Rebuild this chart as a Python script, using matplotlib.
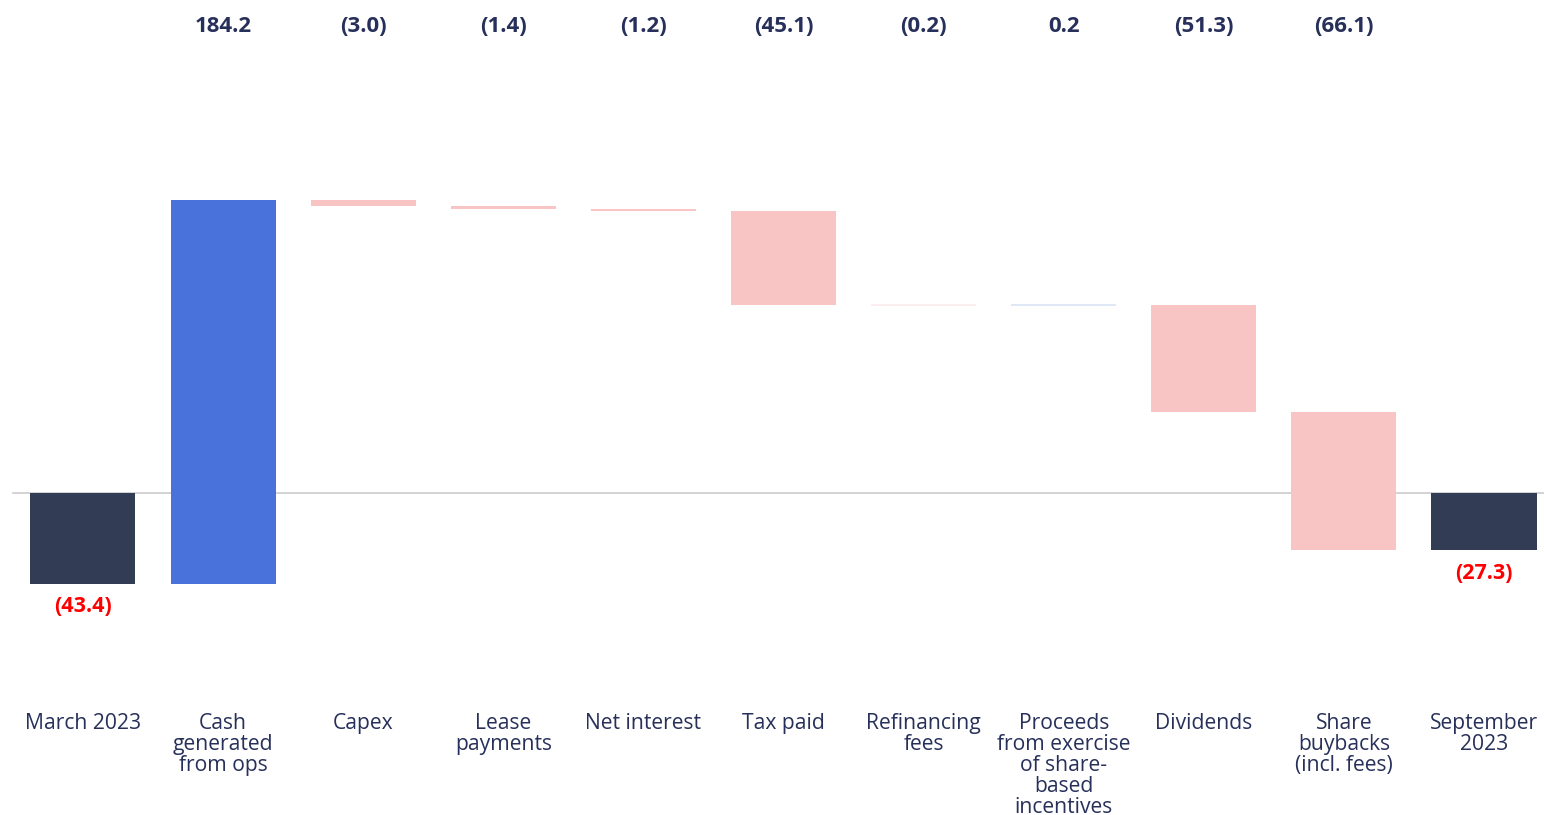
import numpy as np
import matplotlib.pyplot as plt

categories = ["March 2023", "Cash\ngenerated\nfrom ops", "Capex", "Lease\npayments",
              "Net interest", "Tax paid", "Refinancing\nfees",
              "Proceeds\nfrom exercise\nof share-\nbased\nincentives",
              "Dividends", "Share\nbuybacks\n(incl. fees)", "September\n2023"]
opening = -43.4
changes = [184.2, -3.0, -1.4, -1.2, -45.1, -0.2, 0.2, -51.3, -66.1]
closing = -27.3

def fmt(v):
    return "(%.1f)" % abs(v) if v < 0 else "%.1f" % v

TXT = "#27305A"
DARK = "#323C54"
BLUE = "#4A72DB"
PINK = "#F8C4C4"

plt.rcParams['font.family'] = ['Open Sans', 'DejaVu Sans']

fig = plt.figure(figsize=(15.44, 8.15), dpi=100)
ax = fig.add_axes([0, 0, 1, 1])
ax.set_xlim(-0.592, 10.428)
ax.set_ylim(-154.4, 236.5)
ax.axis('off')

w = 0.75
# horizontal zero line
ax.plot([-0.5, 10.428], [0, 0], color="#CCCCCC", lw=1.2, zorder=1)

# opening / closing bars
ax.bar(0, opening, width=w, color=DARK, zorder=2)
ax.bar(10, closing, width=w, color=DARK, zorder=2)

run = opening
for i, c in enumerate(changes, start=1):
    bottom = run if c > 0 else run + c
    h = abs(c)
    if i == 1:
        color = BLUE
    elif c > 0:
        color = "#E0E8F8"
    elif h < 0.5:
        color = "#FCEEEE"
    else:
        color = PINK
    ax.bar(i, max(h, 1.0), bottom=bottom - (max(h, 1.0) - h) / 2, width=w,
           color=color, zorder=2, linewidth=0)
    run += c

trans = ax.get_xaxis_transform()
for i, c in enumerate(changes, start=1):
    ax.text(i, 1 - 27 / 815, fmt(c), transform=trans, ha='center', va='center',
            fontsize=16, fontweight='bold', color=TXT)

ax.text(0, opening - 6, fmt(opening), ha='center', va='top', fontsize=15.5,
        fontweight='bold', color="#FF0000")
ax.text(10, closing - 6, fmt(closing), ha='center', va='top', fontsize=15.5,
        fontweight='bold', color="#FF0000")

for i, lab in enumerate(categories):
    ax.text(i, 1 - 713 / 815, lab, transform=trans, ha='center', va='top',
            fontsize=15.2, color=TXT, linespacing=1.0)

fig.savefig("out.png", dpi=100)
